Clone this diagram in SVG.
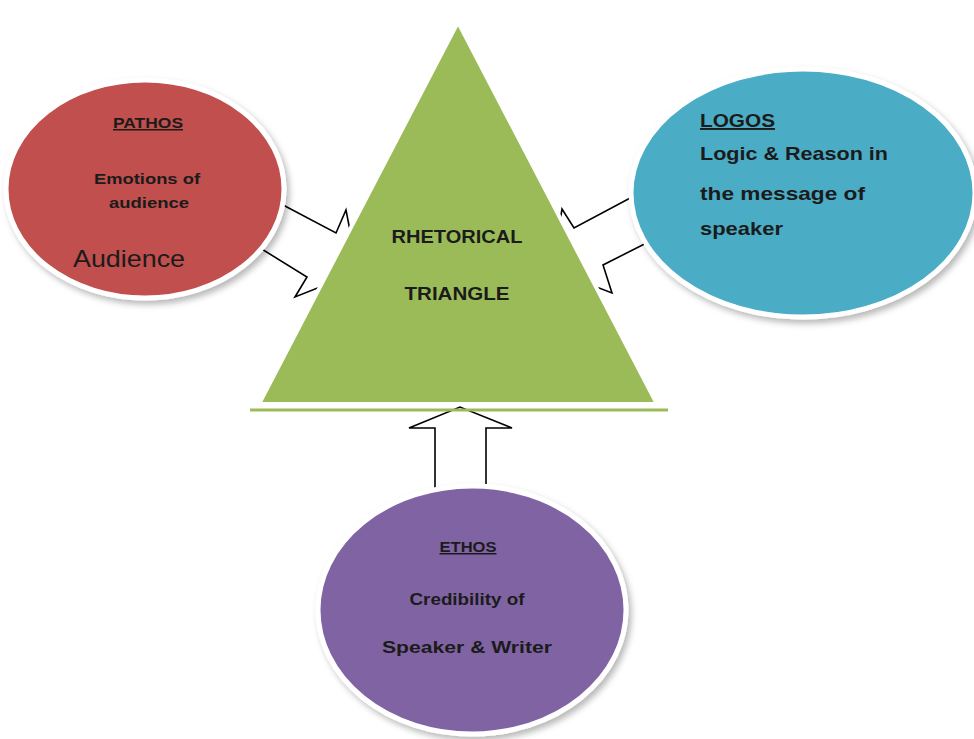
<svg xmlns="http://www.w3.org/2000/svg" width="974" height="739" viewBox="0 0 974 739">
<defs>
<filter id="sh" x="-10%" y="-10%" width="125%" height="125%">
<feDropShadow dx="3" dy="4" stdDeviation="3" flood-color="#000" flood-opacity="0.28"/>
</filter>
<style>
.arrow{fill:#fff;stroke:#000;stroke-width:1.6;stroke-linejoin:miter}
.node{stroke:#fff;stroke-width:5}
.t{font-family:"Liberation Sans",Arial,sans-serif;font-weight:bold;fill:#1b1b1b}
</style>
</defs>
<rect width="974" height="739" fill="#fff"/>
<g id="connectors">
<polygon class="arrow" points="266,196 336,233 346,210 358,272 295,297 307,277 252,243"/>
<polygon class="arrow" points="664,180 574,228 562,209 552,270 612,293 603,265 676,228"/>
<polygon class="arrow" points="435,500 435,428 409,428 460,407 512,428 486,428 486,500"/>
</g>
<g id="pathos">
<ellipse class="node" cx="145" cy="189" rx="139" ry="109" fill="#C0504D" filter="url(#sh)"/>
<text class="t" x="148" y="128" font-size="15" text-anchor="middle" text-decoration="underline" textLength="70" lengthAdjust="spacingAndGlyphs">PATHOS</text>
<text class="t" x="147" y="184" font-size="15" text-anchor="middle" textLength="106" lengthAdjust="spacingAndGlyphs">Emotions of</text>
<text class="t" x="149" y="208" font-size="15" text-anchor="middle" textLength="80" lengthAdjust="spacingAndGlyphs">audience</text>
<text x="73" y="267" font-family="Liberation Sans,Arial,sans-serif" font-size="24" fill="#1b1b1b" textLength="112" lengthAdjust="spacingAndGlyphs">Audience</text>
</g>
<g id="logos">
<ellipse class="node" cx="803" cy="193" rx="172" ry="124" fill="#4BACC6" filter="url(#sh)"/>
<text class="t" x="700" y="127" font-size="19" text-decoration="underline" textLength="75" lengthAdjust="spacingAndGlyphs">LOGOS</text>
<text class="t" x="700" y="160" font-size="19" textLength="188" lengthAdjust="spacingAndGlyphs">Logic &amp; Reason  in</text>
<text class="t" x="700" y="200" font-size="19" textLength="165" lengthAdjust="spacingAndGlyphs">the message  of</text>
<text class="t" x="700" y="235" font-size="19" textLength="83" lengthAdjust="spacingAndGlyphs">speaker</text>
</g>
<g id="triangle">
<line x1="250" y1="410" x2="668" y2="410" stroke="#9BBB59" stroke-width="3"/>
<polygon points="458,22 259,404 657,404" fill="#9BBB59" stroke="#fff" stroke-width="4" stroke-linejoin="miter"/>
<text class="t" x="457" y="243" font-size="18" text-anchor="middle" textLength="131" lengthAdjust="spacingAndGlyphs">RHETORICAL</text>
<text class="t" x="457" y="300" font-size="18" text-anchor="middle" textLength="105" lengthAdjust="spacingAndGlyphs">TRIANGLE</text>
</g>
<g id="ethos">
<ellipse class="node" cx="472" cy="610" rx="154" ry="124" fill="#8064A2" filter="url(#sh)"/>
<text class="t" x="468" y="552" font-size="15" text-anchor="middle" text-decoration="underline" textLength="57" lengthAdjust="spacingAndGlyphs">ETHOS</text>
<text class="t" x="467" y="605" font-size="16" text-anchor="middle" textLength="115" lengthAdjust="spacingAndGlyphs">Credibility of</text>
<text class="t" x="467" y="653" font-size="16" text-anchor="middle" textLength="170" lengthAdjust="spacingAndGlyphs">Speaker &amp; Writer</text>
</g>
</svg>
